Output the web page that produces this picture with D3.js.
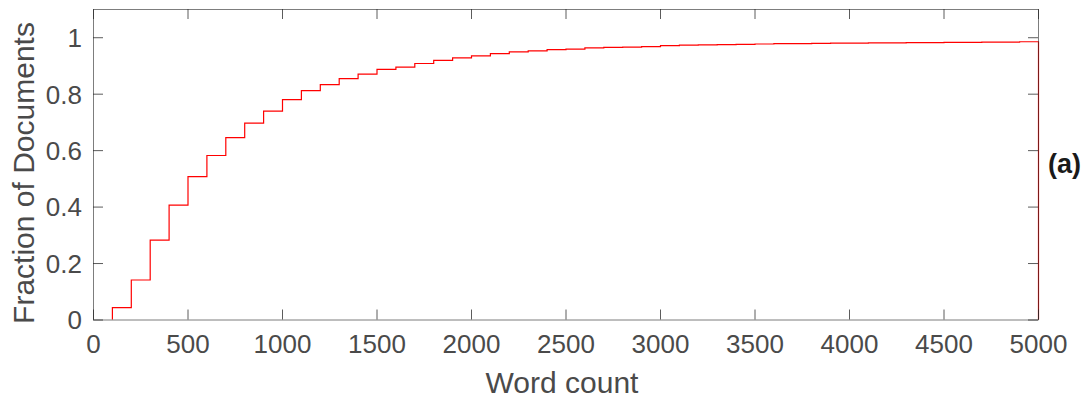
<!DOCTYPE html>
<html>
<head>
<meta charset="utf-8">
<script src="https://cdn.jsdelivr.net/npm/d3@7"></script>
<style>
  html, body { margin: 0; padding: 0; background: #fff; }
  svg { display: block; font-family: "Liberation Sans", Arial, Helvetica, sans-serif; }
</style>
</head>
<body>
<svg id="chart" width="1092" height="400"></svg>
<script>
// Cumulative fraction of documents by word count, in 100-word bins
const binEdges = d3.range(100, 5001, 100);
const cdfValues = [
  0.042, 0.140, 0.281, 0.405, 0.506, 0.581, 0.644, 0.696, 0.738, 0.779,
  0.811, 0.832, 0.853, 0.869, 0.886, 0.894, 0.907, 0.918, 0.927, 0.934,
  0.942, 0.948, 0.952, 0.956, 0.958, 0.962, 0.964, 0.965, 0.967, 0.970,
  0.972, 0.973, 0.974, 0.975, 0.976, 0.977, 0.977, 0.978, 0.979, 0.979,
  0.980, 0.980, 0.981, 0.981, 0.982, 0.982, 0.983, 0.983, 0.984
];
const xTicks = [0, 500, 1000, 1500, 2000, 2500, 3000, 3500, 4000, 4500, 5000];
const yTicks = [0, 0.2, 0.4, 0.6, 0.8, 1];
const xDomain = [0, 5000];
const yDomain = [0, 1.1];

const svg = d3.select("#chart");
const m = { left: 93, right: 1038, top: 9, bottom: 319.5 };

const x = d3.scaleLinear().domain(xDomain).range([m.left, m.right]);
const y = d3.scaleLinear().domain(yDomain).range([m.bottom, m.top]);

const axisColor = "#262626";
const textColor = "#4a4a4a";

// Stair outline: rise at each bin edge, close down to zero at the last edge
const pts = [[binEdges[0], 0]];
cdfValues.forEach((v, i) => {
  pts.push([binEdges[i], v]);
  pts.push([binEdges[i + 1], v]);
});
pts.push([binEdges[binEdges.length - 1], 0]);

const line = d3.line().x(d => x(d[0])).y(d => y(d[1]));

svg.append("path")
  .attr("transform", "translate(0.5,0)")
  .attr("d", line(pts))
  .attr("fill", "none")
  .attr("stroke", "#ff0000")
  .attr("stroke-width", 1.2);

// Axes with inward ticks on all four sides (boxed)
const tickLen = 10;
const fmtY = d => d === 0 ? "0" : (d === 1 ? "1" : d3.format(".1f")(d));

const gx = svg.append("g").attr("transform", `translate(0,${m.bottom})`)
  .call(d3.axisBottom(x).tickValues(xTicks).tickSize(-tickLen).tickSizeOuter(0)
    .tickPadding(15).tickFormat(d3.format("d")));
const gxTop = svg.append("g").attr("transform", `translate(0,${m.top})`)
  .call(d3.axisTop(x).tickValues(xTicks).tickSize(-tickLen).tickSizeOuter(0).tickFormat(""));
const gy = svg.append("g").attr("transform", `translate(${m.left},0)`)
  .call(d3.axisLeft(y).tickValues(yTicks).tickSize(-tickLen).tickSizeOuter(0)
    .tickPadding(11).tickFormat(fmtY));
const gyRight = svg.append("g").attr("transform", `translate(${m.right},0)`)
  .call(d3.axisRight(y).tickValues(yTicks).tickSize(-tickLen).tickSizeOuter(0).tickFormat(""));

[gx, gxTop, gy, gyRight].forEach(g => {
  g.select(".domain").attr("stroke", axisColor).attr("stroke-opacity", 0.6).attr("stroke-width", 1);
  g.selectAll(".tick line").attr("stroke", axisColor).attr("stroke-opacity", 0.75);
  g.selectAll(".tick text").attr("fill", textColor).attr("font-size", 26)
    .attr("font-family", "'Liberation Sans', Arial, sans-serif");
});
gx.selectAll(".tick text").attr("dy", "0.71em");
gy.selectAll(".tick text").attr("dy", "0.36em");

// Axis titles
svg.append("text")
  .attr("x", 562)
  .attr("y", 393)
  .attr("text-anchor", "middle")
  .attr("font-size", 30)
  .attr("fill", textColor)
  .text("Word count");

svg.append("text")
  .attr("transform", "translate(33.5,173) rotate(-90)")
  .attr("text-anchor", "middle")
  .attr("font-size", 30)
  .attr("fill", textColor)
  .text("Fraction of Documents");

// Panel tag
svg.append("text")
  .attr("x", 1048)
  .attr("y", 173)
  .attr("font-size", 27)
  .attr("font-weight", "bold")
  .attr("fill", "#1a1a1a")
  .text("(a)");
</script>
</body>
</html>
